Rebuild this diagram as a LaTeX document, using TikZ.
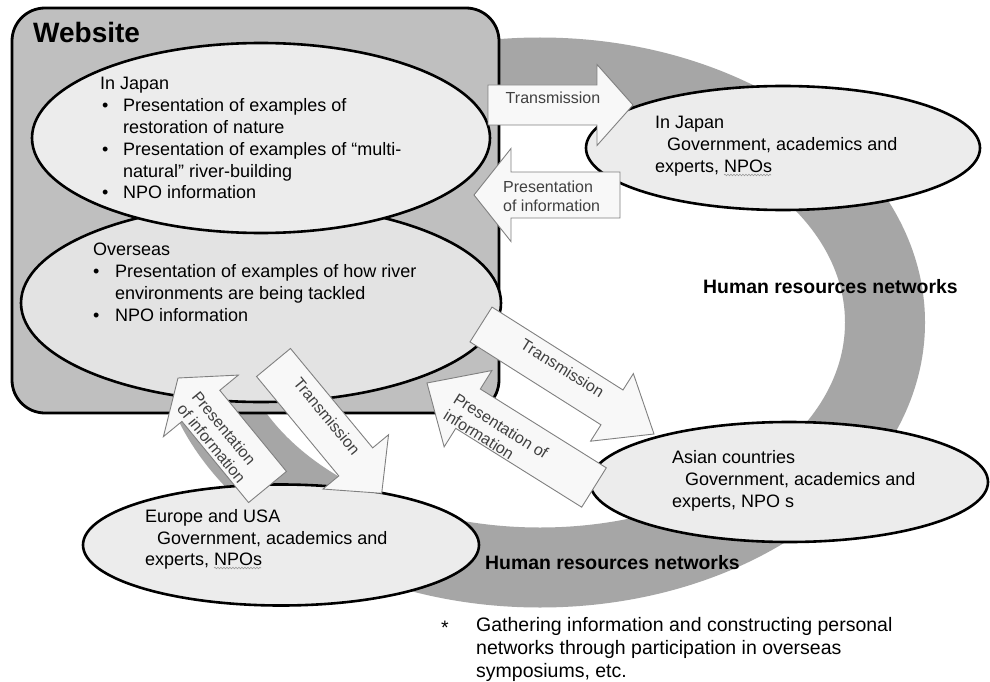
\documentclass[tikz,border=0pt]{standalone}
\usepackage{fontspec}
\setmainfont{Liberation Sans}
\usetikzlibrary{shapes.geometric,calc,decorations.pathmorphing}
\definecolor{ringgray}{HTML}{A6A6A6}
\definecolor{boxgray}{HTML}{BFBFBF}
\definecolor{ellfill}{HTML}{ECECEC}
\definecolor{ellfilltwo}{HTML}{E3E3E3}
\definecolor{arrfill}{HTML}{F8F8F8}
\definecolor{arrline}{HTML}{808080}
\definecolor{arrtext}{HTML}{404040}
\definecolor{squig}{HTML}{9A9A9A}
\newcommand{\blockarrow}[4]{%
  \coordinate (#1-b) at ($(#1-s)!#2!(#1-t)$);
  \filldraw[arrowbody] ($(#1-s)!#3!90:(#1-t)$) -- ($(#1-b)!#3!90:(#1-t)$) -- ($(#1-b)!#4!90:(#1-t)$) -- (#1-t) -- ($(#1-b)!#4!-90:(#1-t)$) -- ($(#1-b)!#3!-90:(#1-t)$) -- ($(#1-s)!#3!-90:(#1-t)$) -- cycle;}
\newcommand{\bulA}{\makebox[23pt][l]{\hspace{2pt}•}}
\newcommand{\indA}{\hspace*{23pt}}
\newcommand{\bulB}{\makebox[22pt][l]{•}}
\newcommand{\indB}{\hspace*{22pt}}
\begin{document}
\begin{tikzpicture}[x=1pt,y=-1pt,
  region/.style={ellipse, draw=black, line width=2.6pt, inner sep=0pt},
  txt/.style={anchor=north west, inner sep=0pt, align=left, font=\fontsize{18}{21.8}\selectfont},
  arrtxt/.style={inner sep=0pt, align=left, text=arrtext, font=\fontsize{16}{19}\selectfont},
  bigbold/.style={font=\bfseries\fontsize{19.4}{23}\selectfont, anchor=base west, inner sep=0pt},
  arrowbody/.style={fill=arrfill, draw=arrline, line width=0.9pt, line join=miter},
  squiggle/.style={draw=squig, line width=0.6pt, decorate, decoration={snake, amplitude=0.8pt, segment length=3pt}}]
\useasboundingbox (0,0) rectangle (990,682);
\fill[white] (0,0) rectangle (990,682);
% ring
\fill[ringgray, even odd rule] (540,322.5) ellipse [x radius=385pt, y radius=285pt]
  (540,322.5) ellipse [x radius=305pt, y radius=205pt];
% website box
\node[rectangle, draw=black, fill=boxgray, line width=2.8pt, rounded corners=33pt,
  minimum width=487pt, minimum height=405pt, inner sep=0pt] (web) at (255.5,210.5) {};
\node[font=\bfseries\fontsize{28}{30}\selectfont, anchor=base west, inner sep=0pt] (webt) at (33,43) {Website};
% ellipses
\node[region, fill=ellfilltwo, minimum width=480pt, minimum height=198pt] (over) at (261,303) {};
\node[region, fill=ellfill, minimum width=458pt, minimum height=190pt] (jpw) at (261,138) {};
\node[region, fill=ellfill, minimum width=394pt, minimum height=124pt] (jp) at (783,148) {};
\node[region, fill=ellfill, minimum width=398pt, minimum height=120pt] (asia) at (789,482) {};
\node[region, fill=ellfill, minimum width=396pt, minimum height=121pt] (eu) at (281,545) {};
% ellipse texts
\node[txt] (jpwt) at (100,77.3) {In Japan\\\bulA Presentation of examples of\\\indA restoration of nature\\\bulA Presentation of examples of “multi-\\\indA natural” river-building\\\bulA NPO information};
\node[txt] (overt) at (93,243) {Overseas\\\bulB Presentation of examples of how river\\\indB environments are being tackled\\\bulB NPO information};
\node[txt] (jpt) at (655,116) {In Japan\\\hspace*{12pt}Government, academics and\\experts, NPOs};
\node[txt] (asiat) at (672,450.7) {Asian countries\\\hspace*{13pt}Government, academics and\\experts, NPO s};
\node[txt] (eut) at (145,509) {Europe and USA\\\hspace*{12pt}Government, academics and\\experts, NPOs};
% spell-check squiggles under NPOs
\coordinate (sqa1) at (724,175); \coordinate (sqa2) at (771,175);
\path[squiggle] (sqa1) -- (sqa2);
\coordinate (sqb1) at (214,568); \coordinate (sqb2) at (261,568);
\path[squiggle] (sqb1) -- (sqb2);
% arrows
\coordinate (A-s) at (488,105); \coordinate (A-t) at (633,105);
\blockarrow{A}{109pt}{20pt}{40.5pt}
\coordinate (B-s) at (620,195); \coordinate (B-t) at (474,195);
\blockarrow{B}{109pt}{23pt}{46.5pt}
\coordinate (C-s) at (481,324.5); \coordinate (C-t) at (654,434);
\blockarrow{C}{155pt}{20.6pt}{40pt}
\coordinate (D-s) at (594,487.5); \coordinate (D-t) at (427,383);
\blockarrow{D}{148.6pt}{23.2pt}{45pt}
\coordinate (E-s) at (267.5,487); \coordinate (E-t) at (178,378);
\blockarrow{E}{105pt}{24.5pt}{48.5pt}
\coordinate (F-s) at (273.5,362.5); \coordinate (F-t) at (381.7,493.3);
\blockarrow{F}{129pt}{22pt}{42.6pt}
% arrow labels
\node[arrtxt] (A-lab) at (553,98) {Transmission};
\node[arrtxt, anchor=north west] (B-lab) at (503,181) {Presentation\\of information};
\node[arrtxt, rotate=-32] (C-lab) at (562.5,368) {Transmission};
\node[arrtxt, rotate=-32] (D-lab) at (496,434) {Presentation of\\information};
\node[arrtxt, rotate=-50.5] (E-lab) at (219,437) {Presentation\\of information};
\node[arrtxt, rotate=-50.5] (F-lab) at (327,416) {Transmission};
% network labels
\node[bigbold] (hr1) at (703,293.3) {Human resources networks};
\node[bigbold] (hr2) at (485,569.3) {Human resources networks};
% footnote
\node[font=\fontsize{19.5}{23}\selectfont, anchor=base west, inner sep=0pt] (star) at (441,634) {*};
\node[anchor=north west, inner sep=0pt, align=left, font=\fontsize{19.5}{23}\selectfont] (note) at (476,617) {Gathering information and constructing personal\\networks through participation in overseas\\symposiums, etc.};
\end{tikzpicture}
\end{document}
